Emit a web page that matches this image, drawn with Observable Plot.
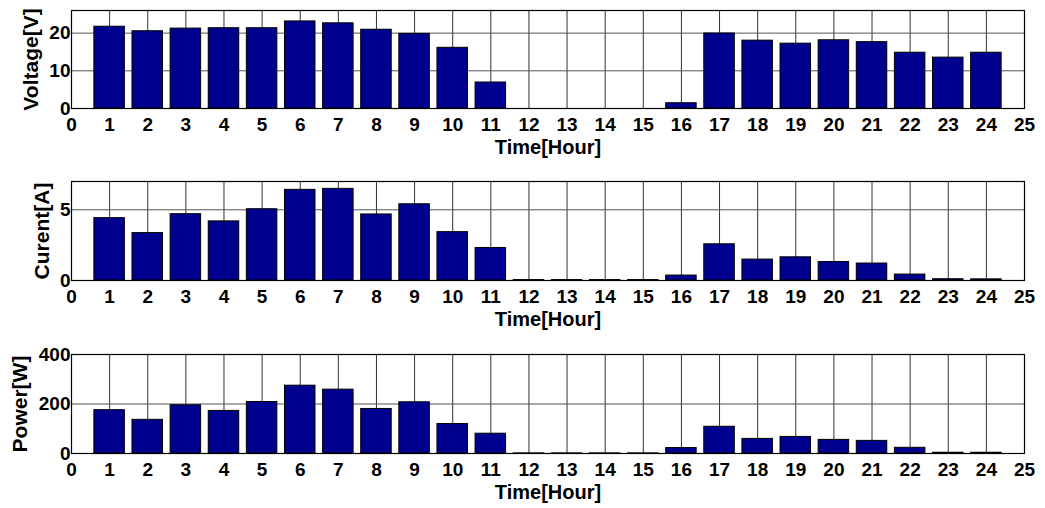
<!DOCTYPE html>
<html>
<head>
<meta charset="utf-8">
<script src="https://cdn.jsdelivr.net/npm/d3@7"></script>
<script src="https://cdn.jsdelivr.net/npm/@observablehq/plot@0.6"></script>
<style>
  body { margin: 0; background: #fff; }
  #chart svg { display: block; }
</style>
</head>
<body>
<div id="chart"></div>
<script>
// Hourly measurements (hour 1..24)
const hours = d3.range(1, 25);
const voltage = [21.7, 20.5, 21.2, 21.3, 21.3, 23.1, 22.6, 20.9, 19.8, 16.1, 6.9, 0, 0, 0, 0, 1.4, 19.9, 18.0, 17.2, 18.1, 17.6, 14.8, 13.5, 14.8];
const current = [4.41, 3.35, 4.69, 4.18, 5.04, 6.41, 6.48, 4.67, 5.39, 3.42, 2.30, 0.03, 0.03, 0.03, 0.03, 0.35, 2.56, 1.48, 1.64, 1.31, 1.20, 0.42, 0.09, 0.08];
const power = [175, 136, 195, 172, 208, 274, 258, 180, 207, 119, 80, 0.5, 0.5, 0.5, 0.5, 22, 108, 59, 67, 55, 51, 23, 3, 3];

// Axis ticks
const hourTicks = d3.range(0, 26);
const voltageTicks = [0, 10, 20];
const currentTicks = [0, 5];
const powerTicks = [0, 200, 400];

const xLabel = "Time[Hour]";
const FONT = "'Liberation Sans', Arial, Helvetica, sans-serif";

function panel({values, yDomain, yTicks, yLabel, labelDx, height, marginTop, marginBottom}) {
  const rows = hours.map((h, i) => ({hour: h, value: values[i]}));
  return Plot.plot({
    width: 1045,
    height,
    marginTop,
    marginBottom,
    marginLeft: 71,
    marginRight: 21,
    style: {fontFamily: FONT, fontWeight: "bold", fontSize: "19px", color: "#000", background: "#fff", overflow: "visible"},
    x: {domain: [0, 25]},
    y: {domain: yDomain},
    marks: [
      Plot.ruleX(hourTicks, {stroke: "#333", strokeWidth: 1}),
      Plot.ruleY(yTicks, {stroke: "#555", strokeWidth: 1}),
      Plot.rectY(rows, {
        x1: d => d.hour - 0.4,
        x2: d => d.hour + 0.4,
        y1: 0,
        y2: "value",
        fill: "#00008F",
        stroke: "#000",
        strokeWidth: 1
      }),
      Plot.frame({stroke: "#000", strokeWidth: 1.2}),
      Plot.axisX(hourTicks, {tickSize: 0, tickPadding: 9, label: null, fontSize: 19}),
      Plot.axisY(yTicks, {tickSize: 0, tickPadding: 1, label: null, fontSize: 19}),
      Plot.text([xLabel], {text: d => d, frameAnchor: "bottom", lineAnchor: "middle", dy: 39, fontSize: 20, fontWeight: "bold"}),
      Plot.text([yLabel], {text: d => d, frameAnchor: "left", textAnchor: "middle", lineAnchor: "middle", dx: labelDx, rotate: -90, fontSize: 21, fontWeight: "bold"})
    ]
  });
}

const chart = document.getElementById("chart");
chart.append(panel({values: voltage, yDomain: [0, 26], yTicks: voltageTicks, yLabel: "Voltage[V]", labelDx: -40, height: 170, marginTop: 10, marginBottom: 62}));
chart.append(panel({values: current, yDomain: [0, 7], yTicks: currentTicks, yLabel: "Curent[A]", labelDx: -29, height: 171, marginTop: 11, marginBottom: 61}));
chart.append(panel({values: power, yDomain: [0, 400], yTicks: powerTicks, yLabel: "Power[W]", labelDx: -51, height: 167, marginTop: 13, marginBottom: 55}));
</script>
</body>
</html>
